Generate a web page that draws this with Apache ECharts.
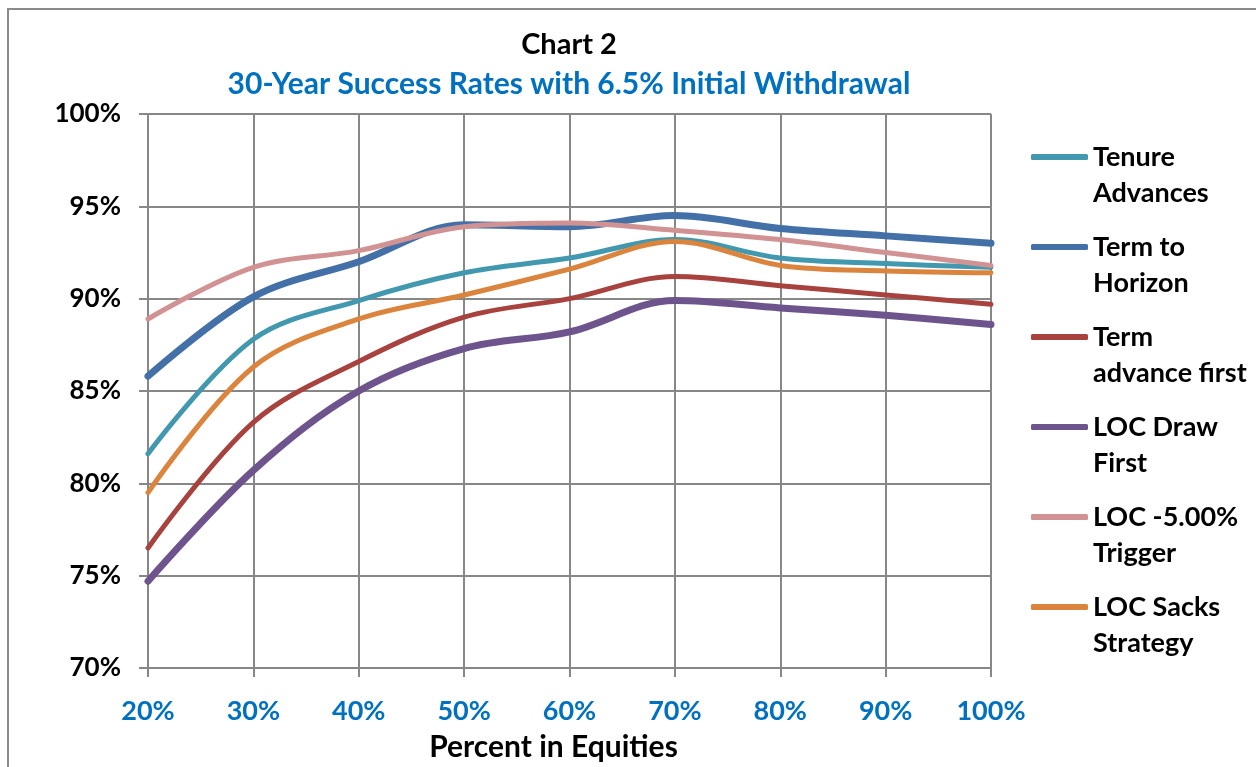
<!DOCTYPE html>
<html><head><meta charset="utf-8">
<script src="https://cdn.jsdelivr.net/npm/echarts@6/dist/echarts.min.js"></script>
<style>html,body{margin:0;padding:0;background:#fff}#c{width:1256px;height:767px}</style>
</head><body><div id="c"></div>
<script>
var categories = ['20%','30%','40%','50%','60%','70%','80%','90%','100%'];
var tenureAdvances   = [81.6, 87.8, 89.9, 91.4, 92.2, 93.2, 92.2, 91.9, 91.7];
var termToHorizon    = [85.8, 90.1, 92.0, 94.0, 93.9, 94.5, 93.8, 93.4, 93.0];
var termAdvanceFirst = [76.5, 83.3, 86.6, 89.0, 90.0, 91.2, 90.7, 90.2, 89.7];
var locDrawFirst     = [74.7, 80.7, 85.0, 87.3, 88.2, 89.9, 89.5, 89.1, 88.6];
var locTrigger       = [88.9, 91.7, 92.6, 93.9, 94.1, 93.7, 93.2, 92.5, 91.8];
var locSacks         = [79.5, 86.3, 88.9, 90.2, 91.6, 93.1, 91.8, 91.5, 91.4];
var yTicks = [70, 75, 80, 85, 90, 95, 100];

var FONT = 'Lato';
function mk(name, data, color, w, z){
  return {name:name, type:'line', data:data, smooth:0.35, showSymbol:false, symbol:'none',
    lineStyle:{color:color, width:w, cap:'round', join:'round'}, itemStyle:{color:color}, z:z};
}
var chart = echarts.init(document.getElementById('c'));
chart.setOption({
  animation:false,
  backgroundColor:'#fff',
  graphic:[{type:'rect', shape:{x:8,y:9,width:1400,height:900}, style:{fill:'none', stroke:'#8a8a8a', lineWidth:2}, z:-1}],
  title:{text:'Chart 2', subtext:'30-Year Success Rates with 6.5% Initial Withdrawal',
    left:564, top:25, textAlign:'center', itemGap:10,
    textStyle:{fontFamily:FONT, fontWeight:'bold', fontSize:29, color:'#000'},
    subtextStyle:{fontFamily:FONT, fontWeight:'bold', fontSize:30, color:'#0070C0'}},
  grid:{left:148, right:265, top:114, bottom:99},
  legend:{orient:'vertical', left:1026, top:98, itemWidth:57, itemHeight:6, itemGap:-18,
    icon:'roundRect',
    formatter:function(n){return ' \n'+n;},
    textStyle:{fontFamily:FONT, fontWeight:'bold', fontSize:27, color:'#000', lineHeight:36},
    data:['Tenure\nAdvances','Term to\nHorizon','Term\nadvance first','LOC Draw\nFirst','LOC -5.00%\nTrigger','LOC Sacks\nStrategy']},
  xAxis:{type:'category', data:categories, boundaryGap:false,
    name:'Percent in Equities', nameLocation:'middle', nameGap:64,
    nameTextStyle:{fontFamily:FONT, fontWeight:'bold', fontSize:30, color:'#000', padding:[0,32,0,0]},
    axisLine:{lineStyle:{color:'#878787', width:2}},
    axisTick:{show:true, length:9, lineStyle:{color:'#878787', width:2}},
    splitLine:{show:true, lineStyle:{color:'#878787', width:2}},
    axisLabel:{fontFamily:FONT, fontWeight:'bold', fontSize:27, color:'#0070C0', margin:30}},
  yAxis:{type:'value', min:yTicks[0], max:yTicks[yTicks.length-1], interval:5,
    axisLine:{show:true, lineStyle:{color:'#878787', width:2}},
    axisTick:{show:true, length:9, lineStyle:{color:'#878787', width:2}},
    splitLine:{show:true, lineStyle:{color:'#878787', width:2}},
    axisLabel:{fontFamily:FONT, fontWeight:'bold', fontSize:26, color:'#000', margin:27, formatter:'{value}%'}},
  series:[
    mk('Tenure\nAdvances', tenureAdvances, '#4198AF', 5, 3),
    mk('Term to\nHorizon', termToHorizon, '#4470A8', 7, 2),
    mk('Term\nadvance first', termAdvanceFirst, '#A8423F', 5, 3),
    mk('LOC Draw\nFirst', locDrawFirst, '#6E548D', 7, 2),
    mk('LOC -5.00%\nTrigger', locTrigger, '#D09293', 5, 3),
    mk('LOC Sacks\nStrategy', locSacks, '#DB843D', 5, 4)
  ]
});
</script></body></html>
